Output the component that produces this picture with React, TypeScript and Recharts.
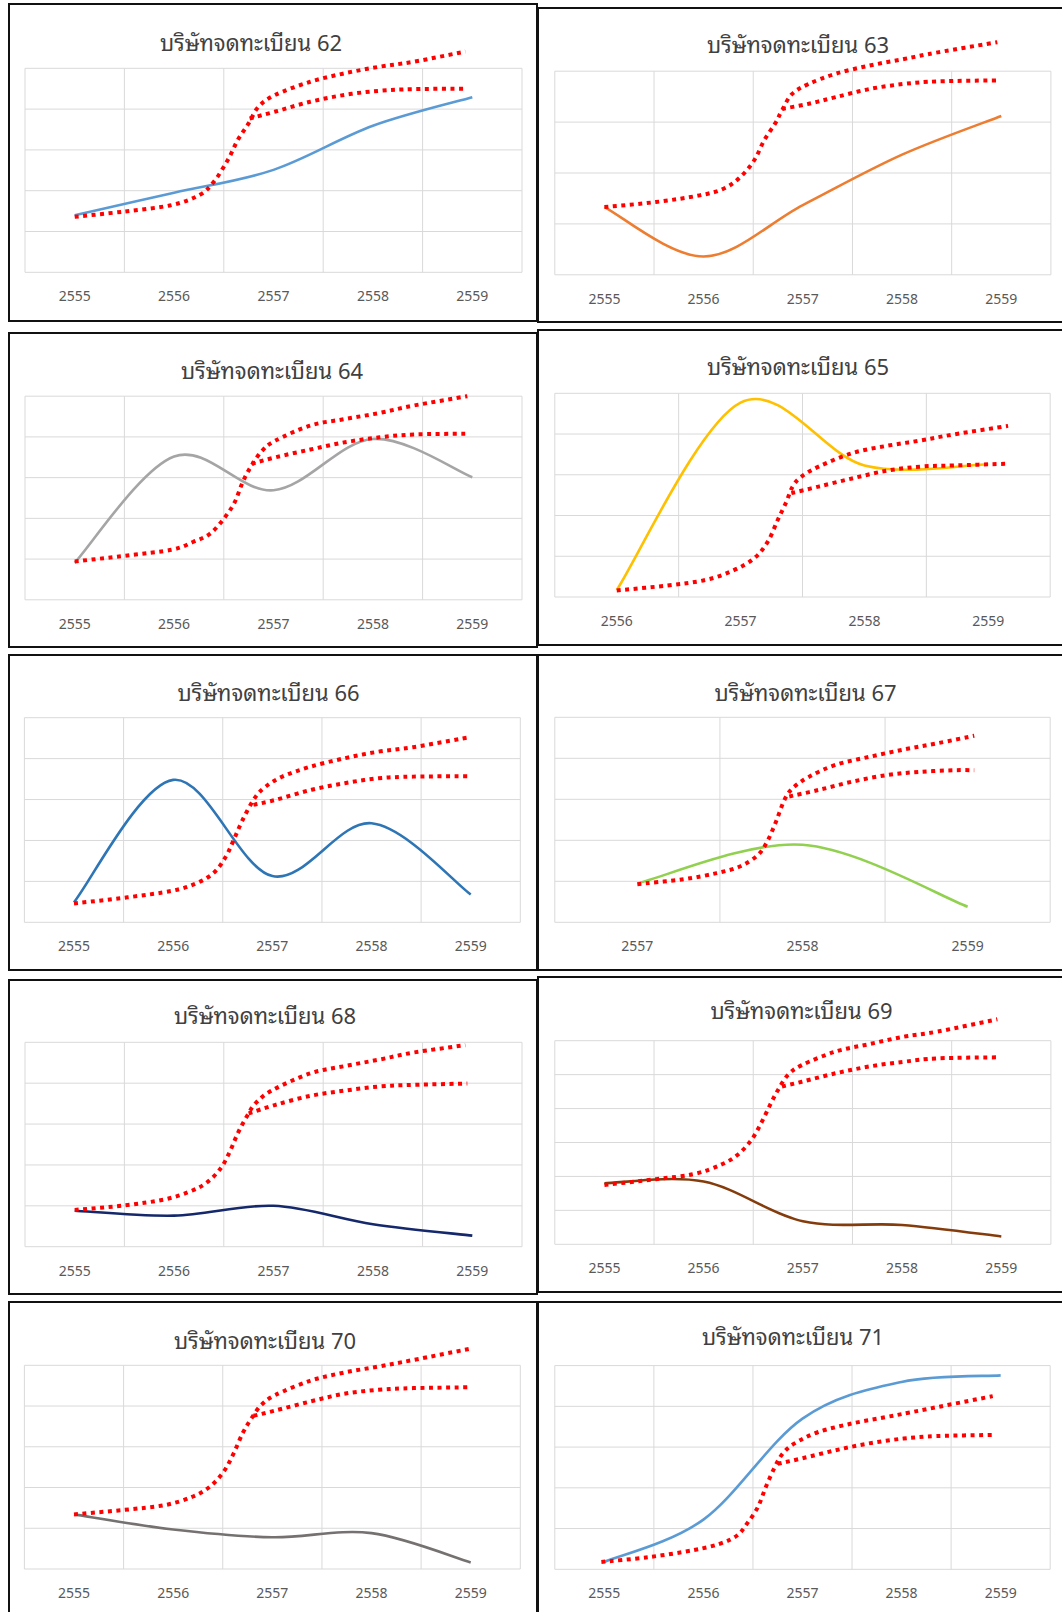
import React from "react";
import { ComposedChart, Line, XAxis, YAxis, ReferenceLine } from "recharts";

type Pt = [number, number];

// x = category index (fractional for the hand-drawn trend), y = grid rows
const YEARS_55_59 = ["2555", "2556", "2557", "2558", "2559"];
const YEARS_56_59 = ["2556", "2557", "2558", "2559"];
const YEARS_57_59 = ["2557", "2558", "2559"];

const NET_62 = [1.4, 1.95, 2.51, 3.59, 4.29];
const HIGH_62: Pt[] = [[0, 1.36], [0.5, 1.49], [0.98, 1.65], [1.26, 1.9], [1.4, 2.22], [1.54, 2.75], [1.64, 3.24], [1.75, 3.65], [1.85, 4.06], [2.02, 4.35], [2.37, 4.67], [2.72, 4.88], [3.07, 5.04], [3.41, 5.16], [3.93, 5.41]];
const LOW_62: Pt[] = [[1.76, 3.77], [2.02, 3.94], [2.37, 4.18], [2.72, 4.35], [3.07, 4.45], [3.41, 4.49], [3.93, 4.5]];

const NET_63 = [1.33, 0.36, 1.37, 2.36, 3.12];
const HIGH_63: Pt[] = [[0, 1.33], [0.52, 1.43], [0.96, 1.56], [1.2, 1.69], [1.37, 1.92], [1.51, 2.25], [1.61, 2.64], [1.72, 2.97], [1.79, 3.23], [1.89, 3.55], [2.06, 3.75], [2.33, 3.95], [2.67, 4.11], [3.02, 4.24], [3.36, 4.37], [3.96, 4.57]];
const LOW_63: Pt[] = [[1.79, 3.26], [2.06, 3.36], [2.33, 3.49], [2.67, 3.65], [3.02, 3.75], [3.36, 3.8], [3.96, 3.82]];

const NET_64 = [0.91, 3.52, 2.69, 3.95, 3.01];
const HIGH_64: Pt[] = [[0, 0.94], [0.53, 1.09], [0.98, 1.23], [1.19, 1.42], [1.36, 1.62], [1.5, 1.99], [1.61, 2.4], [1.69, 2.89], [1.78, 3.3], [1.89, 3.67], [2.02, 3.91], [2.37, 4.28], [2.72, 4.44], [3.07, 4.59], [3.41, 4.77], [3.95, 5.0]];
const LOW_64: Pt[] = [[1.78, 3.34], [2.02, 3.5], [2.37, 3.69], [2.72, 3.87], [3.07, 3.99], [3.41, 4.06], [3.97, 4.08]];

const NET_65 = [0.17, 4.77, 3.23, 3.26];
const HIGH_65: Pt[] = [[0, 0.16], [0.4, 0.28], [0.72, 0.42], [0.94, 0.65], [1.11, 0.95], [1.22, 1.36], [1.3, 1.89], [1.37, 2.34], [1.42, 2.71], [1.49, 2.95], [1.63, 3.2], [1.9, 3.53], [2.18, 3.71], [2.45, 3.84], [2.72, 3.99], [3.16, 4.2]];
const LOW_65: Pt[] = [[1.41, 2.55], [1.63, 2.71], [1.9, 2.91], [2.18, 3.1], [2.45, 3.2], [2.72, 3.23], [3.16, 3.27]];

const NET_66 = [0.49, 3.48, 1.13, 2.42, 0.68];
const HIGH_66: Pt[] = [[0, 0.46], [0.54, 0.61], [0.99, 0.77], [1.23, 0.95], [1.41, 1.21], [1.53, 1.6], [1.61, 2.01], [1.7, 2.5], [1.82, 3.03], [1.93, 3.31], [2.1, 3.56], [2.38, 3.8], [2.73, 4.01], [3.07, 4.17], [3.42, 4.28], [3.96, 4.51]];
const LOW_66: Pt[] = [[1.81, 2.87], [2.03, 2.99], [2.38, 3.23], [2.73, 3.4], [3.07, 3.52], [3.42, 3.56], [3.98, 3.57]];

const NET_67 = [0.95, 1.89, 0.38];
const HIGH_67: Pt[] = [[0, 0.93], [0.28, 1.05], [0.48, 1.2], [0.62, 1.36], [0.73, 1.64], [0.79, 2.0], [0.84, 2.46], [0.89, 2.98], [0.94, 3.27], [1.04, 3.55], [1.2, 3.84], [1.41, 4.04], [1.62, 4.22], [1.82, 4.37], [2.04, 4.55]];
const LOW_67: Pt[] = [[0.92, 3.07], [1.1, 3.23], [1.3, 3.43], [1.51, 3.59], [1.71, 3.67], [1.92, 3.71], [2.04, 3.71]];

const NET_68 = [0.88, 0.76, 1.0, 0.55, 0.27];
const HIGH_68: Pt[] = [[0, 0.9], [0.5, 1.01], [0.91, 1.16], [1.16, 1.35], [1.33, 1.57], [1.47, 1.92], [1.56, 2.32], [1.64, 2.77], [1.73, 3.18], [1.82, 3.51], [1.99, 3.83], [2.37, 4.24], [2.72, 4.42], [3.07, 4.58], [3.41, 4.75], [3.93, 4.93]];
const LOW_68: Pt[] = [[1.75, 3.26], [2.02, 3.47], [2.37, 3.69], [2.72, 3.82], [3.07, 3.92], [3.41, 3.96], [3.95, 3.99]];

const NET_69 = [1.8, 1.85, 0.68, 0.57, 0.23];
const HIGH_69: Pt[] = [[0, 1.75], [0.52, 1.92], [0.9, 2.07], [1.17, 2.34], [1.34, 2.63], [1.48, 3.07], [1.58, 3.57], [1.67, 4.11], [1.75, 4.55], [1.85, 4.99], [1.99, 5.28], [2.33, 5.68], [2.67, 5.9], [3.02, 6.12], [3.36, 6.27], [3.96, 6.63]];
const LOW_69: Pt[] = [[1.79, 4.65], [1.99, 4.79], [2.33, 5.04], [2.67, 5.24], [3.02, 5.38], [3.36, 5.48], [3.97, 5.51]];

const NET_70 = [1.34, 0.97, 0.78, 0.88, 0.16];
const HIGH_70: Pt[] = [[0, 1.34], [0.5, 1.45], [0.92, 1.57], [1.2, 1.78], [1.37, 2.02], [1.51, 2.39], [1.61, 2.84], [1.7, 3.33], [1.79, 3.7], [1.89, 4.03], [2.03, 4.27], [2.38, 4.62], [2.72, 4.82], [3.07, 4.97], [3.42, 5.13], [3.98, 5.4]];
const LOW_70: Pt[] = [[1.81, 3.76], [2.03, 3.89], [2.38, 4.11], [2.72, 4.3], [3.07, 4.4], [3.42, 4.44], [3.98, 4.46]];

const NET_71 = [0.18, 1.22, 3.7, 4.6, 4.76];
const HIGH_71: Pt[] = [[-0.03, 0.18], [0.45, 0.3], [0.9, 0.47], [1.17, 0.63], [1.34, 0.83], [1.44, 1.12], [1.55, 1.53], [1.63, 2.02], [1.72, 2.51], [1.8, 2.84], [1.92, 3.09], [2.16, 3.37], [2.5, 3.58], [2.85, 3.74], [3.19, 3.9], [3.92, 4.25]];
const LOW_71: Pt[] = [[1.75, 2.59], [1.99, 2.72], [2.33, 2.92], [2.67, 3.09], [3.02, 3.21], [3.36, 3.27], [3.94, 3.3]];

interface PanelSpec {
  no: number;
  years: string[];
  values: number[];
  high: Pt[];
  low: Pt[];
  color: string;
  rows: number;
  box: { x: number; y: number; w: number; h: number };
  grid: { l: number; r: number; t: number; b: number };
  title: { x: number; y: number };
}

const PANELS: PanelSpec[] = [
  { no: 62, years: YEARS_55_59, values: NET_62, high: HIGH_62, low: LOW_62, color: "#5B9BD5", rows: 5,
    box: { x: 8, y: 3, w: 530, h: 319 }, grid: { l: 25, r: 522, t: 68.3, b: 272.3 }, title: { x: 251, y: 41 } },
  { no: 63, years: YEARS_55_59, values: NET_63, high: HIGH_63, low: LOW_63, color: "#ED7D31", rows: 4,
    box: { x: 537, y: 6.5, w: 530, h: 316 }, grid: { l: 554.8, r: 1050.9, t: 70.7, b: 274.3 }, title: { x: 798, y: 42.5 } },
  { no: 64, years: YEARS_55_59, values: NET_64, high: HIGH_64, low: LOW_64, color: "#A5A5A5", rows: 5,
    box: { x: 8, y: 331.5, w: 530, h: 316 }, grid: { l: 25, r: 522, t: 395.7, b: 599.3 }, title: { x: 272, y: 368.5 } },
  { no: 65, years: YEARS_56_59, values: NET_65, high: HIGH_65, low: LOW_65, color: "#FFC000", rows: 5,
    box: { x: 537, y: 329, w: 530, h: 317 }, grid: { l: 554.8, r: 1050.2, t: 393.3, b: 597 }, title: { x: 798, y: 365 } },
  { no: 66, years: YEARS_55_59, values: NET_66, high: HIGH_66, low: LOW_66, color: "#2E75B6", rows: 5,
    box: { x: 8, y: 654, w: 530, h: 317 }, grid: { l: 24.4, r: 520.3, t: 717.7, b: 922.3 }, title: { x: 268.6, y: 691 } },
  { no: 67, years: YEARS_57_59, values: NET_67, high: HIGH_67, low: LOW_67, color: "#92D050", rows: 5,
    box: { x: 537, y: 654, w: 530, h: 317 }, grid: { l: 554.8, r: 1050.2, t: 717.3, b: 922.3 }, title: { x: 805.5, y: 691 } },
  { no: 68, years: YEARS_55_59, values: NET_68, high: HIGH_68, low: LOW_68, color: "#14286B", rows: 5,
    box: { x: 8, y: 979, w: 530, h: 316 }, grid: { l: 25, r: 522, t: 1042.3, b: 1246.7 }, title: { x: 265, y: 1013.5 } },
  { no: 69, years: YEARS_55_59, values: NET_69, high: HIGH_69, low: LOW_69, color: "#843C0C", rows: 6,
    box: { x: 537, y: 976, w: 530, h: 317 }, grid: { l: 554.8, r: 1050.9, t: 1040.7, b: 1244.3 }, title: { x: 801.5, y: 1009 } },
  { no: 70, years: YEARS_55_59, values: NET_70, high: HIGH_70, low: LOW_70, color: "#767171", rows: 5,
    box: { x: 8, y: 1301, w: 530, h: 318 }, grid: { l: 24.4, r: 520.3, t: 1365.3, b: 1569 }, title: { x: 265, y: 1339 } },
  { no: 71, years: YEARS_55_59, values: NET_71, high: HIGH_71, low: LOW_71, color: "#5B9BD5", rows: 5,
    box: { x: 537, y: 1300.7, w: 530, h: 318 }, grid: { l: 554.8, r: 1050.2, t: 1365.3, b: 1569 }, title: { x: 793, y: 1335 } },
];

const GRID = "#D9D9D9";
const TREND_RED = "#FF0000";
const AXIS_H = 40;

// Catmull-Rom style smoothing, close to the spreadsheet "smoothed line" look
function smoothCurve(context: any) {
  let pts: number[][] = [];
  return {
    areaStart() {},
    areaEnd() {},
    lineStart() {
      pts = [];
    },
    point(x: number, y: number) {
      pts.push([+x, +y]);
    },
    lineEnd() {
      if (!pts.length) return;
      context.moveTo(pts[0][0], pts[0][1]);
      for (let i = 0; i < pts.length - 1; i++) {
        const p0 = pts[Math.max(i - 1, 0)];
        const p1 = pts[i];
        const p2 = pts[i + 1];
        const p3 = pts[Math.min(i + 2, pts.length - 1)];
        context.bezierCurveTo(
          p1[0] + (p2[0] - p0[0]) / 6,
          p1[1] + (p2[1] - p0[1]) / 6,
          p2[0] - (p3[0] - p1[0]) / 6,
          p2[1] - (p3[1] - p1[1]) / 6,
          p2[0],
          p2[1]
        );
      }
    },
  };
}

function Panel({ p }: { p: PanelSpec }) {
  const n = p.years.length;
  const rowH = (p.grid.b - p.grid.t) / p.rows;
  // one spare row above the grid so the trend lines can run past its top edge
  const margin = {
    left: p.grid.l - p.box.x,
    right: p.box.x + p.box.w - p.grid.r,
    top: p.grid.t - rowH - p.box.y,
    bottom: p.box.h - (p.grid.b - p.box.y) - AXIS_H,
  };
  const netData = p.values.map((v, i) => ({ x: i, y: v }));
  const highData = p.high.map(([x, y]) => ({ x, y }));
  const lowData = p.low.map(([x, y]) => ({ x, y }));
  const rowLines = Array.from({ length: p.rows + 1 }, (_, k) => k);
  const colLines = Array.from({ length: n + 1 }, (_, k) => k - 0.5);

  return (
    <div style={{ position: "absolute", left: p.box.x, top: p.box.y, width: p.box.w, height: p.box.h }}>
      <ComposedChart width={p.box.w} height={p.box.h} margin={margin}>
        <XAxis
          type="number"
          dataKey="x"
          domain={[-0.5, n - 0.5]}
          ticks={p.years.map((_, i) => i)}
          tickFormatter={(i: number) => p.years[i]}
          interval={0}
          axisLine={false}
          tickLine={false}
          height={AXIS_H}
          tickMargin={13}
          tick={{ fill: "#595959", fontSize: 14 }}
        />
        <YAxis type="number" hide domain={[0, p.rows + 1]} />

        {rowLines.map((k) => (
          <ReferenceLine key={`r${k}`} y={k} stroke={GRID} strokeWidth={1} />
        ))}
        {colLines.map((x) => (
          <ReferenceLine
            key={`c${x}`}
            segment={[{ x, y: 0 }, { x, y: p.rows }]}
            stroke={GRID}
            strokeWidth={1}
          />
        ))}

        <Line
          data={netData}
          dataKey="y"
          type={smoothCurve as any}
          stroke={p.color}
          strokeWidth={2.6}
          dot={false}
          activeDot={false}
          isAnimationActive={false}
        />
        <Line
          data={highData}
          dataKey="y"
          type={smoothCurve as any}
          stroke={TREND_RED}
          strokeWidth={4}
          strokeDasharray="4 4.5"
          dot={false}
          activeDot={false}
          isAnimationActive={false}
        />
        <Line
          data={lowData}
          dataKey="y"
          type={smoothCurve as any}
          stroke={TREND_RED}
          strokeWidth={4}
          strokeDasharray="4 4.5"
          dot={false}
          activeDot={false}
          isAnimationActive={false}
        />
      </ComposedChart>
      <div
        style={{
          position: "absolute",
          left: p.title.x - p.box.x - 200,
          top: p.title.y - p.box.y - 15,
          width: 400,
          height: 30,
          lineHeight: "30px",
          textAlign: "center",
          fontSize: 22,
          color: "#404040",
          whiteSpace: "nowrap",
          fontFamily: '"Noto Sans Thai Looped", Loma, Garuda, Waree, Tahoma, "Noto Sans Thai", "Noto Sans", sans-serif',
        }}
      >
        บริษัทจดทะเบียน {p.no}
      </div>
      <div
        style={{
          position: "absolute",
          inset: 0,
          border: "2px solid #111",
          boxSizing: "border-box",
          pointerEvents: "none",
        }}
      />
    </div>
  );
}

export default function App() {
  return (
    <div
      style={{
        position: "absolute",
        left: 0,
        top: 0,
        width: 1062,
        height: 1612,
        overflow: "hidden",
        background: "#fff",
        fontFamily: '"Noto Sans", "DejaVu Sans", sans-serif',
      }}
    >
      {PANELS.map((p) => (
        <Panel key={p.no} p={p} />
      ))}
    </div>
  );
}
